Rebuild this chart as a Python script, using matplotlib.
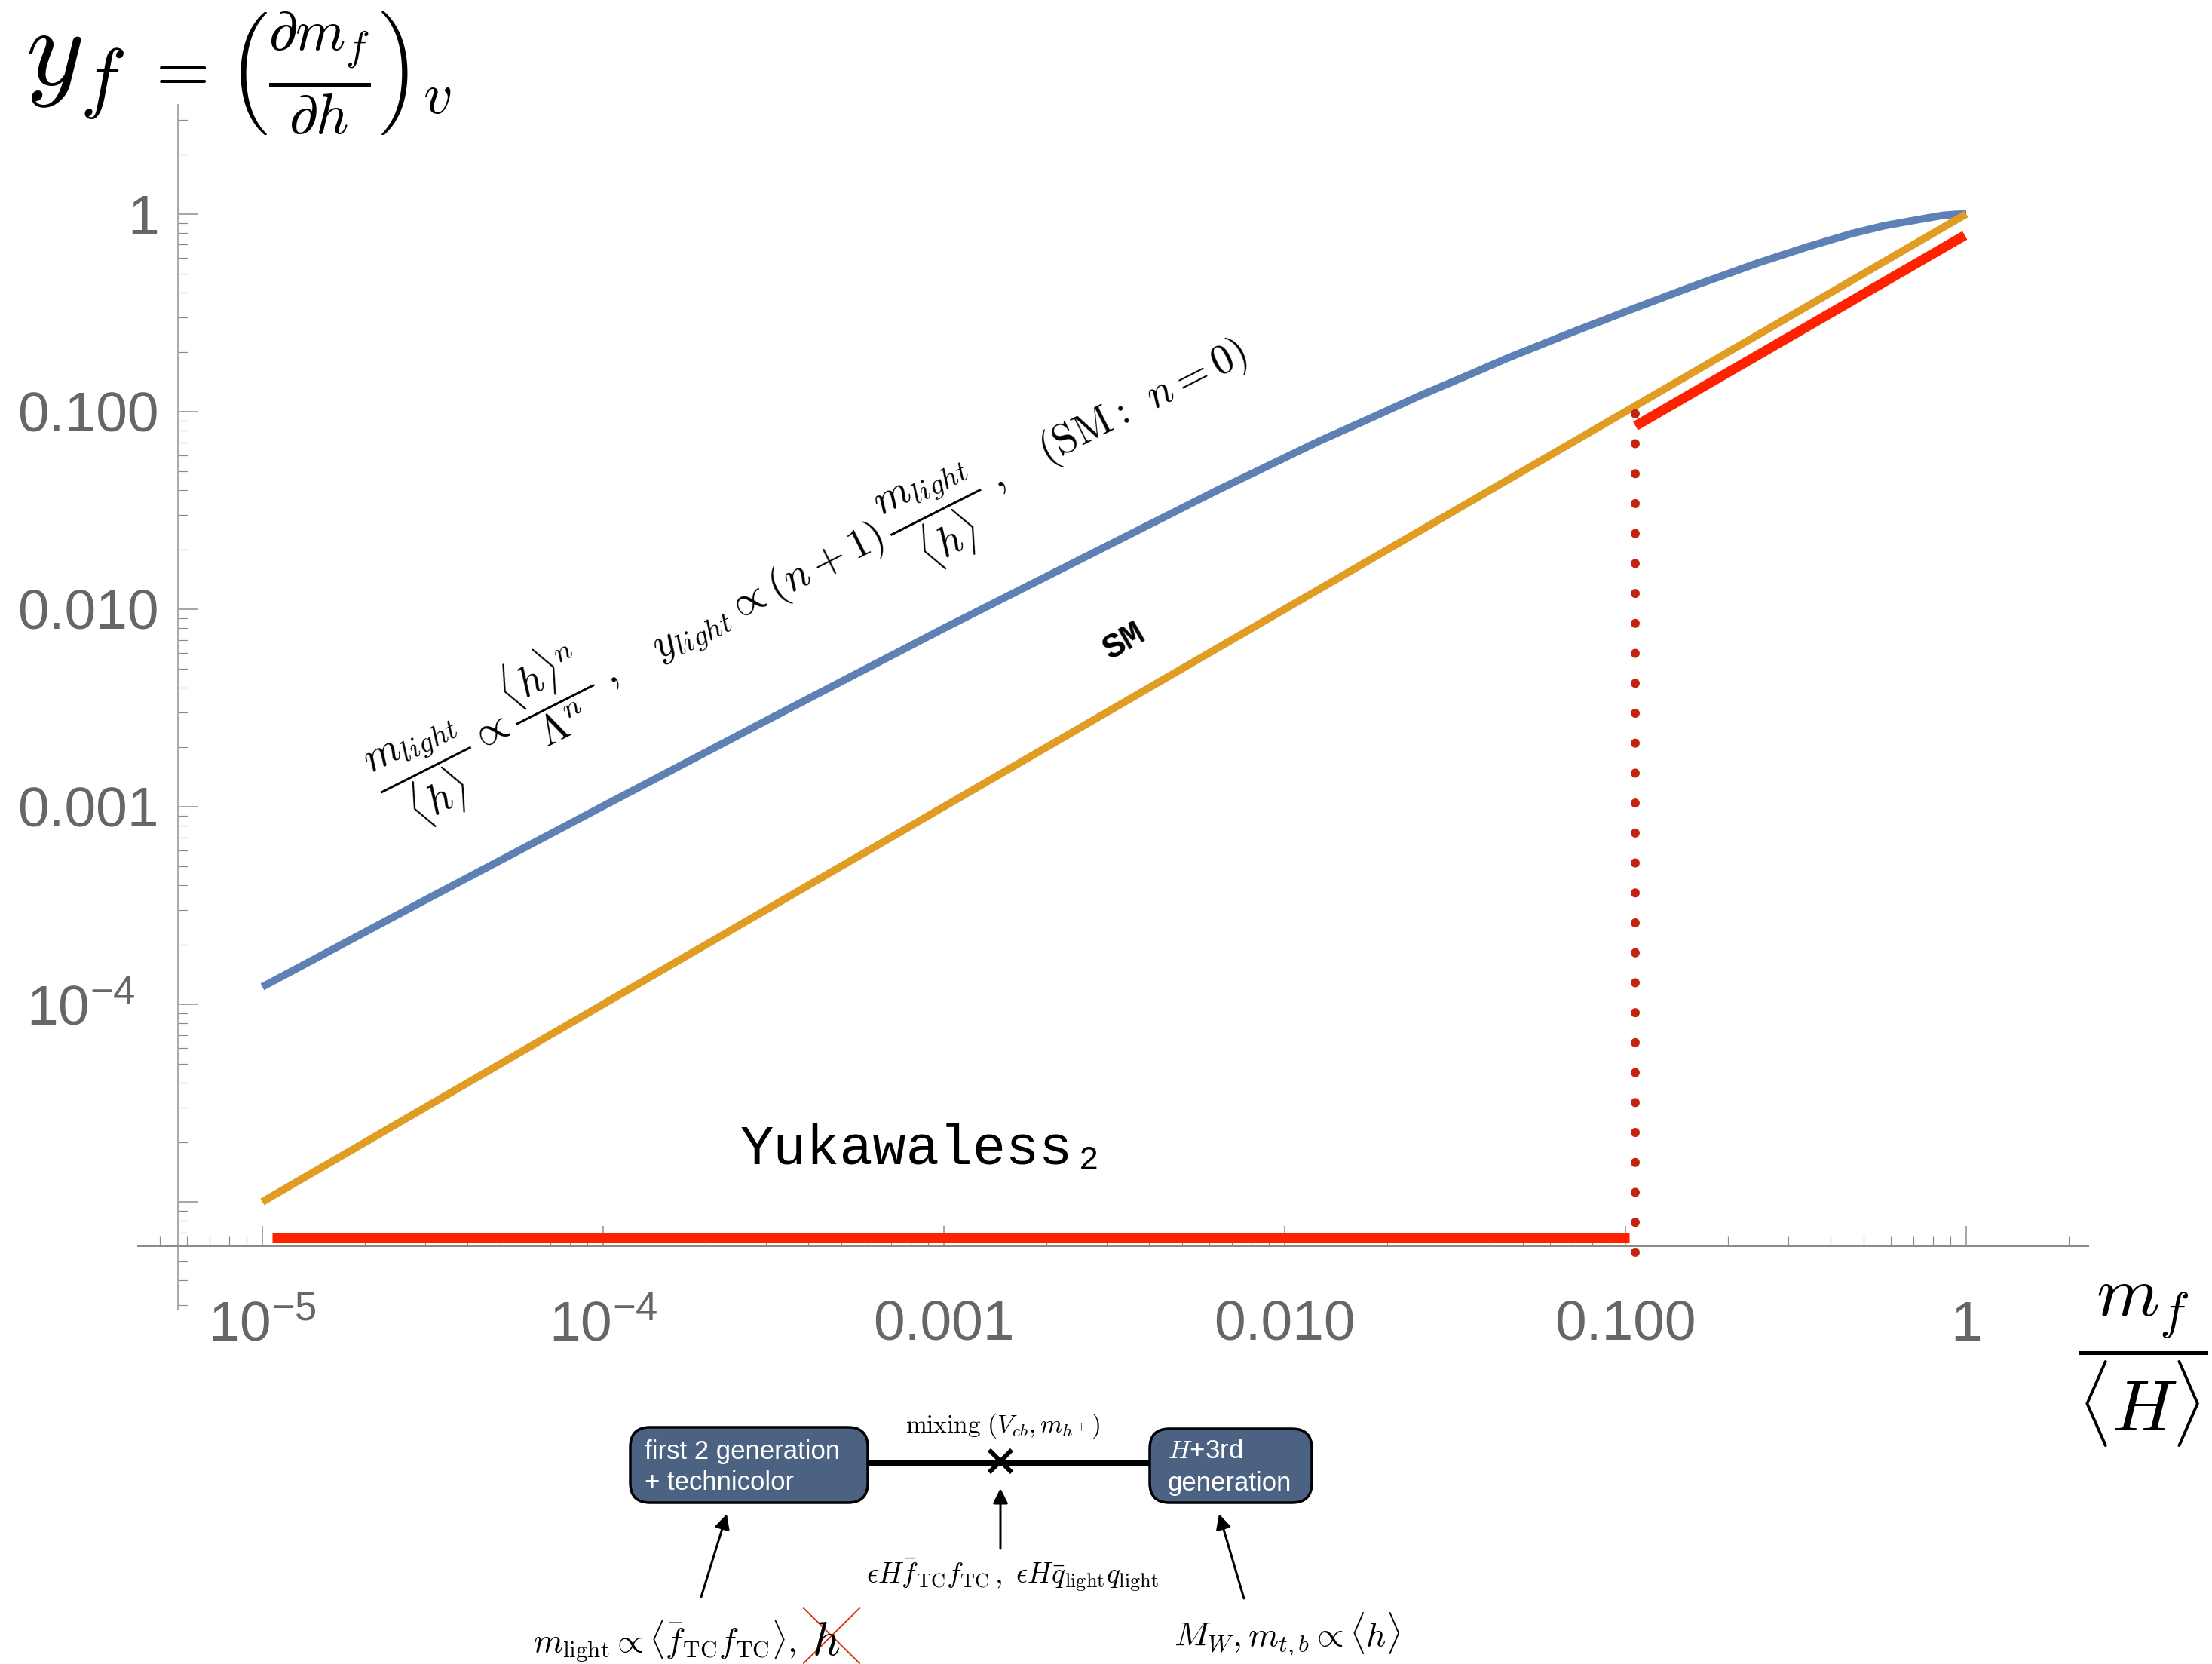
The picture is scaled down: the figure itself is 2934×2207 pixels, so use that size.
import numpy as np
import matplotlib
matplotlib.use('Agg')
import matplotlib.pyplot as plt
from matplotlib.patches import FancyBboxPatch
from matplotlib.ticker import LogLocator, FixedLocator, NullFormatter
import matplotlib.transforms as mtrans

plt.rcParams['font.family'] = ['Liberation Sans', 'DejaVu Sans']
plt.rcParams['mathtext.fontset'] = 'custom'
plt.rcParams['mathtext.rm'] = 'Liberation Sans'
plt.rcParams['mathtext.it'] = 'Liberation Sans:italic'
plt.rcParams['mathtext.bf'] = 'Liberation Sans:bold'

# ---------------- data ----------------
sm_x = [1e-5, 1.0]
sm_y = [1e-5, 1.0]

blue_x = [1e-5, 2.84e-5, 1e-4, 3.16e-4, 1e-3, 3.16e-3, 6.31e-3, 0.01265, 0.01778,
          0.0251, 0.0355, 0.0452, 0.0708, 0.105, 0.1585, 0.245, 0.339, 0.461,
          0.575, 0.703, 0.851, 0.933, 1.0]
blue_y = [1.225e-4, 3.2e-4, 1.007e-3, 2.85e-3, 8.0e-3, 0.0218, 0.0398, 0.071, 0.0923,
          0.121, 0.156, 0.187, 0.2547, 0.331, 0.4325, 0.566, 0.679, 0.796,
          0.873, 0.929, 0.984, 0.9966, 1.0]

yk_flat_x = [1.07e-5, 0.1026]
yk_flat_y = [6.6e-6, 6.6e-6]
yk_top_x = [0.107, 0.99]
yk_top_y = [0.0846, 0.78]
cut_x = [0.107, 0.107]
cut_y = [5.55e-6, 0.106]

xtick_vals = [1e-5, 1e-4, 1e-3, 1e-2, 1e-1, 1.0]
xtick_labels = [r'$10^{-5}$', r'$10^{-4}$', '0.001', '0.010', '0.100', '1']
ytick_vals = [1e-4, 1e-3, 1e-2, 1e-1, 1.0]
ytick_labels = [r'$10^{-4}$', '0.001', '0.010', '0.100', '1']

# ---------------- figure ----------------
W, H = 2934, 2207
DPI = 100
def pt(v):
    return v * 72.0 / DPI

fig = plt.figure(figsize=(W / DPI, H / DPI), dpi=DPI)
fig.patch.set_facecolor('white')

ax = fig.add_axes([183 / W, 1 - 1736 / H, (2769 - 183) / W, (1736 - 139) / H])
ax.set_xscale('log')
ax.set_yscale('log')
ax.set_xlim(10 ** -5.365, 10 ** 0.356)
ax.set_ylim(10 ** -5.542, 10 ** 0.553)
ax.patch.set_visible(False)
for s in ['top', 'right']:
    ax.spines[s].set_visible(False)
ax.spines['left'].set_position(('data', 10 ** -5.248))
ax.spines['bottom'].set_position(('data', 10 ** -5.221))
ax.spines['left'].set_color('#aaaaaa')
ax.spines['left'].set_linewidth(pt(2))
ax.spines['bottom'].set_color('#8a8a8a')
ax.spines['bottom'].set_linewidth(pt(3))

ax.xaxis.set_major_locator(FixedLocator(xtick_vals + [10.0]))
ax.yaxis.set_major_locator(FixedLocator([1e-5] + ytick_vals + [10.0]))
ax.xaxis.set_minor_locator(LogLocator(base=10, subs=np.arange(2, 10), numticks=60))
ax.yaxis.set_minor_locator(LogLocator(base=10, subs=np.arange(2, 10), numticks=60))
for a in (ax.xaxis, ax.yaxis):
    a.set_major_formatter(NullFormatter())
    a.set_minor_formatter(NullFormatter())
ax.tick_params(which='major', direction='in', length=pt(26), width=pt(1.5), color='#8a8a8a')
ax.tick_params(which='minor', direction='in', length=pt(13), width=pt(1.2), color='#8a8a8a')

# manual tick labels
tx = mtrans.blended_transform_factory(ax.transData, fig.transFigure)
for v, lab in zip(xtick_vals, xtick_labels):
    ax.text(v, 1 - 1778 / H, lab, transform=tx, ha='center', va='baseline',
            fontsize=54, color='#666666', clip_on=False)
ty = mtrans.offset_copy(mtrans.blended_transform_factory(fig.transFigure, ax.transData),
                        fig=fig, x=0, y=-27, units='dots')
for v, lab in zip(ytick_vals, ytick_labels):
    xr = 211 if not lab.startswith('$') else 180
    ax.text(xr / W, v, lab, transform=ty, ha='right', va='baseline',
            fontsize=54, color='#666666', clip_on=False)

# series
ax.plot(blue_x, blue_y, color='#5E81B5', lw=pt(10), solid_capstyle='butt',
        solid_joinstyle='round', zorder=3)
ax.plot(sm_x, sm_y, color='#E19C24', lw=pt(10), solid_capstyle='butt', zorder=4)
ax.plot(yk_flat_x, yk_flat_y, color='#FF2200', lw=pt(13), solid_capstyle='butt', zorder=5)
ax.plot(yk_top_x, yk_top_y, color='#FF2200', lw=pt(13), solid_capstyle='butt', zorder=5)
ax.plot(cut_x, cut_y, color='#C4230D', lw=pt(12), linestyle=(0, (0.01, 3.3)),
        dash_capstyle='round', zorder=6, clip_on=False)

# ---------------- axis titles ----------------
fig.text(34 / W, 1 - 113 / H, r'$y_f$', ha='left', va='baseline', fontsize=106,
         math_fontfamily='cm', color='black')
fig.text(190 / W, 1 - 120 / H, r'$=$', ha='left', va='baseline', fontsize=66,
         math_fontfamily='cm', color='black')
fig.text(302 / W, 1 - 132 / H, r'$\left(\frac{\partial m_f}{\partial h}\right)_v$',
         ha='left', va='baseline', fontsize=78, math_fontfamily='cm', color='black')
fig.text(2756 / W, 1 - 1812 / H, r'$\dfrac{m_f}{\langle H\rangle}$',
         ha='left', va='center', fontsize=69, math_fontfamily='cm', color='black')

# ---------------- annotations on the chart ----------------
eq = (r'$\dfrac{m_{light}}{\langle h\rangle} \propto \dfrac{\langle h\rangle^n}{\Lambda^n}\;,\quad '
      r'y_{light} \propto (n+1)\,\dfrac{m_{light}}{\langle h\rangle}\;,\quad (\mathrm{SM}:\;\, n=0)$')
fig.text(1078 / W, 1 - 760 / H, eq, ha='center', va='center', rotation=26.8,
         rotation_mode='anchor', fontsize=40, math_fontfamily='cm', color='black')

fig.text(1491 / W, 1 - 851 / H, 'SM', ha='center', va='center', rotation=30,
         rotation_mode='anchor', fontsize=34, family=['Liberation Mono', 'DejaVu Sans Mono'],
         fontweight='bold', color='black')
fig.text(982 / W, 1 - 1544 / H, 'Yukawaless\u2082', ha='left', va='baseline',
         fontsize=53, family=['Liberation Mono', 'DejaVu Sans Mono'], color='black')

# ---------------- bottom diagram (pixel overlay) ----------------
ov = fig.add_axes([0, 0, 1, 1], zorder=10)
ov.set_xlim(0, W)
ov.set_ylim(H, 0)
ov.axis('off')
ov.patch.set_visible(False)

box_col = '#4b6283'
ov.plot([1151, 1525], [1940, 1940], color='black', lw=pt(9), solid_capstyle='butt', zorder=1)
for (x0, y0, w, h) in [(836, 1893, 315, 100), (1525, 1895, 215, 98)]:
    ov.add_patch(FancyBboxPatch((x0, y0), w, h, boxstyle='round,pad=0,rounding_size=26',
                                facecolor=box_col, edgecolor='black', lw=pt(3.5), zorder=2))
ov.plot([1327], [1938], marker='x', ms=pt(30), mew=pt(6), color='black', zorder=3)

ov.text(855, 1926, 'first 2 generation', color='white', fontsize=25, ha='left', va='center')
ov.text(855, 1967, '+ technicolor', color='white', fontsize=25, ha='left', va='center')
ov.text(1549, 1924, '$H$+3rd', color='white', fontsize=25, ha='left', va='center',
        math_fontfamily='cm')
ov.text(1549, 1967, 'generation', color='white', fontsize=25, ha='left', va='center')

ov.text(1330, 1900, r'$\mathrm{mixing}\ (V_{cb}, m_{h^+})$', ha='center', va='baseline',
        fontsize=24, math_fontfamily='cm')
ov.text(1343, 2100, r'$\epsilon H \bar{f}_{\mathrm{TC}} f_{\mathrm{TC}}\,,\ \epsilon H \bar{q}_{\mathrm{light}} q_{\mathrm{light}}$',
        ha='center', va='baseline', fontsize=27, math_fontfamily='cm')
ov.text(707, 2190, r'$m_{\mathrm{light}} \propto \langle \bar{f}_{\mathrm{TC}} f_{\mathrm{TC}}\rangle,$',
        ha='left', va='baseline', fontsize=32, math_fontfamily='cm')
ov.text(1077, 2195, r'$h$', ha='left', va='baseline', fontsize=46, math_fontfamily='cm')
ov.plot([1066, 1140], [2133, 2206], color='#d42a10', lw=pt(1.8))
ov.plot([1140, 1066], [2133, 2206], color='#d42a10', lw=pt(1.8))
ov.text(1557, 2184, r'$M_W, m_{t,b} \propto \langle h\rangle$', ha='left', va='baseline',
        fontsize=33, math_fontfamily='cm')

arrow_kw = dict(arrowstyle='-|>', lw=pt(3), color='black', mutation_scale=30,
                shrinkA=0, shrinkB=0)
ov.annotate('', xy=(964, 2008), xytext=(930, 2118), arrowprops=arrow_kw)
ov.annotate('', xy=(1327, 1974), xytext=(1327, 2054), arrowprops=arrow_kw)
ov.annotate('', xy=(1617, 2008), xytext=(1650, 2120), arrowprops=arrow_kw)

fig.savefig('out.png', dpi=DPI, facecolor='white')
